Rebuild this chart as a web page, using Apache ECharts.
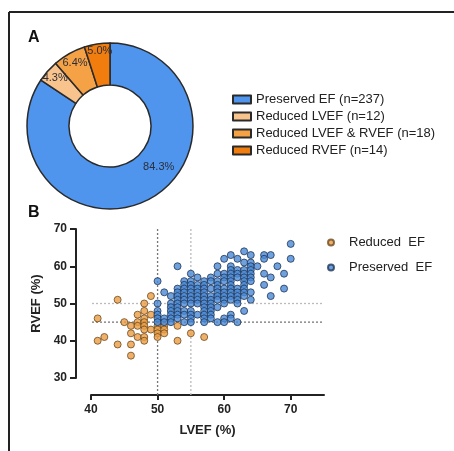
<!DOCTYPE html>
<html>
<head>
<meta charset="utf-8">
<script src="https://cdn.jsdelivr.net/npm/echarts@6/dist/echarts.min.js"></script>
<style>
  html, body { margin: 0; padding: 0; background: #fff; }
  #chart { width: 454px; height: 451px; }
</style>
</head>
<body>
<div id="chart"></div>
<script>
// panel A
const pieNames = ['Preserved EF', 'Reduced LVEF', 'Reduced LVEF & RVEF', 'Reduced RVEF'];
const pieCounts = [237, 12, 18, 14];
const pieColors = ['#4f95ee', '#f8c38c', '#f5a146', '#f07d0e'];

// panel B, [LVEF, RVEF]
const reducedEF = [
  [41, 46], [41, 40], [42, 41], [44, 51], [44, 39], [45, 45],
  [46, 44], [46, 42], [46, 39], [46, 36],
  [47, 47], [47, 45], [47, 44], [47, 41],
  [48, 50], [48, 48], [48, 46], [48, 45], [48, 44], [48, 43], [48, 41], [48, 40],
  [49, 52], [49, 47], [49, 43],
  [50, 44], [50, 43], [50, 42], [50, 41],
  [51, 44], [51, 43], [51, 42],
  [53, 44], [53, 40], [55, 42], [57, 41]
];
const preservedEF = [
  [50, 56], [50, 50], [50, 48], [50, 47], [50, 46], [50, 45],
  [51, 53], [51, 46], [51, 45],
  [52, 52], [52, 50], [52, 49], [52, 48], [52, 47], [52, 46], [52, 45],
  [53, 60], [53, 54], [53, 53], [53, 52], [53, 51], [53, 50], [53, 49], [53, 48], [53, 47], [53, 46],
  [54, 56], [54, 55], [54, 54], [54, 53], [54, 52], [54, 51], [54, 50], [54, 48], [54, 47], [54, 45],
  [55, 58], [55, 56], [55, 55], [55, 54], [55, 53], [55, 52], [55, 51], [55, 50], [55, 48], [55, 47], [55, 46], [55, 45],
  [56, 57], [56, 55], [56, 54], [56, 53], [56, 52], [56, 51], [56, 50], [56, 47],
  [57, 56], [57, 55], [57, 54], [57, 53], [57, 52], [57, 51], [57, 50], [57, 49], [57, 48], [57, 47], [57, 46], [57, 45],
  [58, 57], [58, 56], [58, 54], [58, 52], [58, 51], [58, 50], [58, 49], [58, 48], [58, 47], [58, 46],
  [59, 60], [59, 58], [59, 56], [59, 55], [59, 54], [59, 53], [59, 52], [59, 51], [59, 49], [59, 45],
  [60, 62], [60, 58], [60, 57], [60, 56], [60, 54], [60, 53], [60, 52], [60, 51], [60, 50], [60, 46], [60, 45],
  [61, 63], [61, 60], [61, 59], [61, 58], [61, 57], [61, 56], [61, 55], [61, 54], [61, 53], [61, 52], [61, 51], [61, 47], [61, 46],
  [62, 62], [62, 59], [62, 58], [62, 57], [62, 54], [62, 53], [62, 52], [62, 51], [62, 50], [62, 45],
  [63, 64], [63, 61], [63, 59], [63, 58], [63, 57], [63, 56], [63, 55], [63, 54], [63, 53], [63, 52], [63, 48],
  [64, 63], [64, 61], [64, 60], [64, 59], [64, 58], [64, 57], [64, 56], [64, 53], [64, 51],
  [65, 60], [66, 63], [66, 62], [66, 58], [66, 55],
  [67, 63], [67, 57], [67, 52], [68, 60], [69, 58], [69, 54], [70, 66], [70, 62]
];
const xTicks = [40, 50, 60, 70];
const lvefCuts = [50, 55];
const rvefCuts = [45, 50];

const font = '"Liberation Sans", Arial, Helvetica, sans-serif';
const plot = { left: 91, top: 229, width: 233, height: 149 };
const xMin = 40, xMax = 75, yMin = 30, yMax = 70;
const xAxisOffset = 17, yAxisOffset = 15;
// values where the detached axes sit, so guide lines reach them
const yAtXAxis = yMin - xAxisOffset * (yMax - yMin) / plot.height;
const xAtYAxis = xMin - yAxisOffset * (xMax - xMin) / plot.width;

const labelShift = [[18, -16], [-6, -5], [-3, -6], [0, -11]];

const chart = echarts.init(document.getElementById('chart'));

const guide = (data, color) => ({
  type: 'line',
  data: data,
  symbol: 'none',
  clip: false,
  silent: true,
  z: 1,
  lineStyle: { color: color, width: 1.3, type: [2, 2] }
});

const option = {
  animation: false,
  textStyle: { fontFamily: font },
  graphic: [
    { type: 'line', shape: { x1: 9, y1: 12, x2: 454, y2: 12 }, style: { stroke: '#222', lineWidth: 2 } },
    { type: 'line', shape: { x1: 9, y1: 12, x2: 9, y2: 451 }, style: { stroke: '#222', lineWidth: 2 } },
    { type: 'text', left: 28, top: 30, style: { text: 'A', font: 'bold 16px ' + font, fill: '#111' } },
    { type: 'text', left: 28, top: 205, style: { text: 'B', font: 'bold 16px ' + font, fill: '#111' } }
  ],
  legend: [
    {
      data: pieNames.map((n, i) => n + ' (n=' + pieCounts[i] + ')'),
      orient: 'vertical',
      left: 227,
      top: 88,
      itemWidth: 18,
      itemHeight: 8,
      itemGap: 4,
      icon: 'rect',
      textStyle: { fontSize: 13, color: '#222', fontFamily: font }
    },
    {
      data: ['Reduced EF', 'Preserved EF'],
      orient: 'vertical',
      left: 322,
      top: 231,
      itemWidth: 26,
      itemHeight: 6,
      itemGap: 12,
      icon: 'circle',
      formatter: name => name.replace(' ', '  '),
      textStyle: { fontSize: 13, color: '#222', fontFamily: font }
    }
  ],
  grid: { left: plot.left, top: plot.top, width: plot.width, height: plot.height },
  xAxis: {
    type: 'value',
    min: xMin,
    max: xMax,
    interval: 10,
    offset: xAxisOffset,
    name: 'LVEF (%)',
    nameLocation: 'middle',
    nameGap: 29,
    nameTextStyle: { fontSize: 13, fontWeight: 'bold', color: '#222' },
    axisLine: { lineStyle: { color: '#222', width: 2 } },
    axisTick: { length: 5, lineStyle: { width: 2, color: '#222' }, customValues: xTicks },
    axisLabel: { fontSize: 12, fontWeight: 'bold', color: '#222', margin: 9, customValues: xTicks },
    splitLine: { show: false }
  },
  yAxis: {
    type: 'value',
    min: yMin,
    max: yMax,
    interval: 10,
    offset: yAxisOffset,
    name: 'RVEF (%)',
    nameLocation: 'middle',
    nameGap: 30,
    nameTextStyle: { fontSize: 13, fontWeight: 'bold', color: '#222' },
    axisLine: { show: true, lineStyle: { color: '#222', width: 2 } },
    axisTick: { show: true, length: 6, lineStyle: { width: 2, color: '#222' } },
    axisLabel: { fontSize: 12, fontWeight: 'bold', color: '#222', margin: 9 },
    splitLine: { show: false }
  },
  series: [
    {
      type: 'pie',
      center: [110, 126],
      radius: [41, 83],
      startAngle: 90,
      clockwise: true,
      silent: true,
      itemStyle: { borderColor: '#2a2a2a', borderWidth: 1.5 },
      label: {
        position: 'inside',
        formatter: p => (p.value / pieCounts.reduce((a, b) => a + b, 0) * 100).toFixed(1) + '%',
        fontSize: 11,
        color: '#2b2f3a'
      },
      labelLine: { show: false },
      data: pieNames.map((n, i) => ({
        name: n + ' (n=' + pieCounts[i] + ')',
        value: pieCounts[i],
        itemStyle: { color: pieColors[i] },
        label: { offset: labelShift[i] }
      }))
    },
    guide([[lvefCuts[0], yMax], [lvefCuts[0], yAtXAxis]], '#777'),
    guide([[lvefCuts[1], yMax], [lvefCuts[1], yAtXAxis]], '#bbb'),
    guide([[xAtYAxis, rvefCuts[0]], [xMax, rvefCuts[0]]], '#777'),
    guide([[xAtYAxis, rvefCuts[1]], [xMax, rvefCuts[1]]], '#bbb'),
    {
      name: 'Reduced EF',
      type: 'scatter',
      symbolSize: 7,
      z: 3,
      itemStyle: { color: '#eb9e44', borderColor: '#6e4a1e', borderWidth: 1 },
      data: reducedEF
    },
    {
      name: 'Preserved EF',
      type: 'scatter',
      symbolSize: 7,
      z: 3,
      itemStyle: { color: '#4a8ad6', borderColor: '#1f3657', borderWidth: 1 },
      data: preservedEF
    }
  ]
};

chart.setOption(option);
</script>
</body>
</html>
